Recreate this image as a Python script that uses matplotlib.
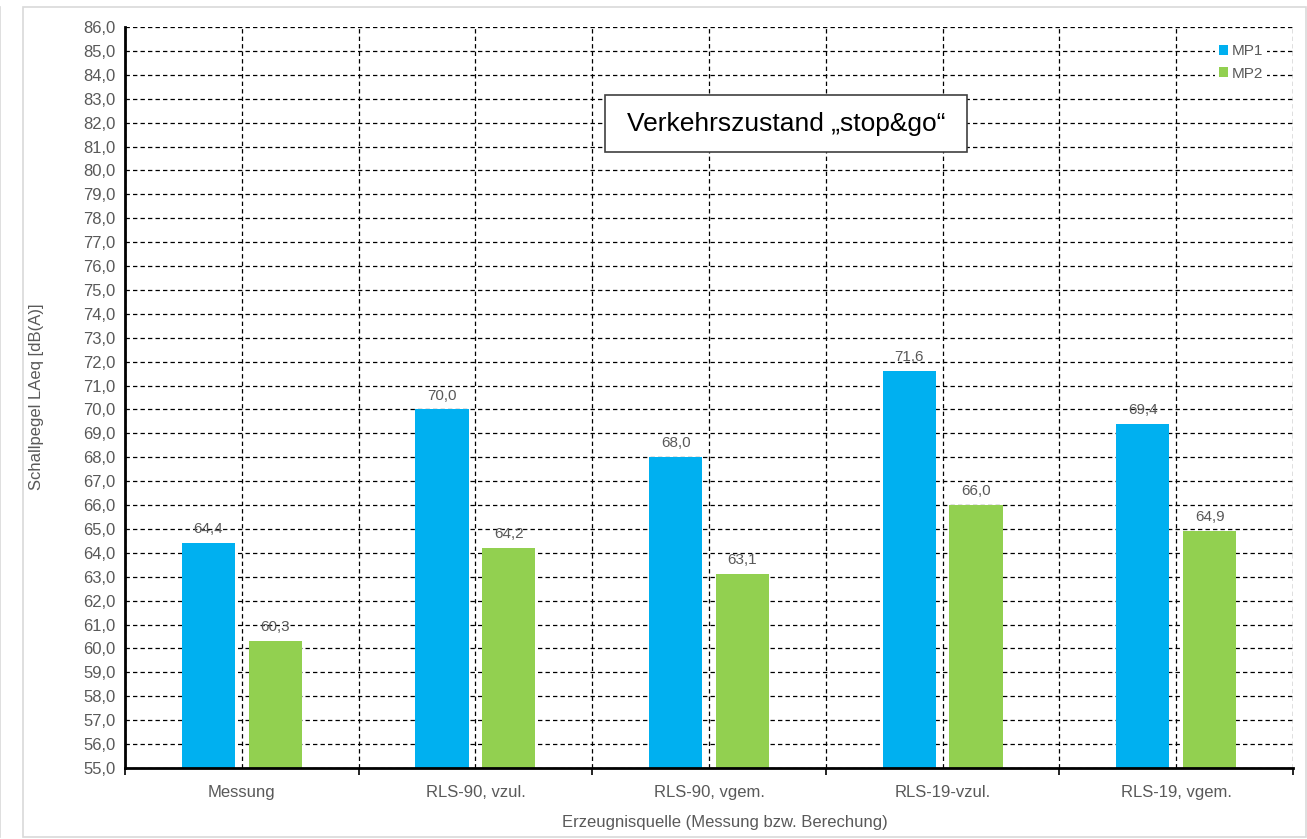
import matplotlib

matplotlib.use("Agg")
import matplotlib.pyplot as plt
from matplotlib.patches import Rectangle
from matplotlib.ticker import FixedLocator, FuncFormatter

plt.rcParams["font.family"] = ["Liberation Sans", "DejaVu Sans"]

# data
categories = ["Messung", "RLS-90, vzul.", "RLS-90, vgem.", "RLS-19-vzul.", "RLS-19, vgem."]
mp1 = [64.4, 70.0, 68.0, 71.6, 69.4]
mp2 = [60.3, 64.2, 63.1, 66.0, 64.9]
series_names = ["MP1", "MP2"]
y_ticks = list(range(55, 87))

BLUE = "#00B0F0"
GREEN = "#92D050"
GREY_TEXT = "#595959"

W, H = 1307, 839
fig = plt.figure(figsize=(W / 100, H / 100), dpi=100)
fig.patch.set_facecolor("white")

# light outer frames like the source document
fig.patches.append(Rectangle((23 / W, 2 / H), 1283 / W, 830 / H, transform=fig.transFigure,
                             fill=False, edgecolor="#d9d9d9", linewidth=1.2))
fig.patches.append(Rectangle((-0.01, 2 / H), 13 / W, 830 / H, transform=fig.transFigure,
                             fill=False, edgecolor="#d9d9d9", linewidth=1.2))

ax = fig.add_axes([125 / W, (H - 768) / H, (1293 - 125) / W, (768 - 27) / H])

x = list(range(len(categories)))
offset = 0.143
width = 0.227
b1 = ax.bar([i - offset for i in x], mp1, width=width, color=BLUE, label=series_names[0], zorder=3)
b2 = ax.bar([i + offset for i in x], mp2, width=width, color=GREEN, label=series_names[1], zorder=3)

fmt = lambda v: f"{v:.1f}".replace(".", ",")
ax.bar_label(b1, labels=[fmt(v) for v in mp1], padding=5, fontsize=11, color=GREY_TEXT, zorder=4)
ax.bar_label(b2, labels=[fmt(v) for v in mp2], padding=5, fontsize=11, color=GREY_TEXT, zorder=4)

ax.set_ylim(55, 86)
ax.set_xlim(-0.5, len(categories) - 0.5)
ax.set_yticks(y_ticks)
ax.yaxis.set_major_formatter(FuncFormatter(lambda v, _: fmt(v)))
ax.tick_params(axis="y", length=0, pad=7, labelsize=12, labelcolor=GREY_TEXT)

ax.set_xticks(x)
ax.set_xticklabels(categories)
ax.xaxis.set_minor_locator(FixedLocator([i - 0.5 for i in range(len(categories) + 1)]))
ax.tick_params(axis="x", which="major", length=0, pad=12, labelsize=12, labelcolor=GREY_TEXT)
ax.tick_params(axis="x", which="minor", length=5, width=1.2, direction="out", color="black")

grid_style = dict(color="black", linestyle=(0, (3.5, 2.5)), linewidth=0.9)
ax.grid(axis="y", which="major", **grid_style)
ax.grid(axis="x", which="both", **grid_style)
ax.set_axisbelow(True)

ax.spines[["top", "right"]].set_visible(False)
ax.spines["left"].set_linewidth(2)
ax.spines["bottom"].set_linewidth(2)
ax.spines["bottom"].set_zorder(5)

# boxed caption inside the plot area
ax0, ay0 = 125, 768
box_l, box_r, box_t, box_b = 605, 967, 95, 152
ax.add_patch(Rectangle(((box_l - ax0) / 1168, (ay0 - box_b) / 741), (box_r - box_l) / 1168,
                       (box_b - box_t) / 741, transform=ax.transAxes, facecolor="white",
                       edgecolor="#404040", linewidth=1.2, zorder=6))
ax.text((786 - ax0) / 1168, (ay0 - 123.5) / 741, "Verkehrszustand \u201estop&go\u201c",
        transform=ax.transAxes, fontsize=19, ha="center", va="center", color="black", zorder=7)

leg = ax.legend(loc="upper right", bbox_to_anchor=(0.978, 0.983), fontsize=11, frameon=True,
                framealpha=1, edgecolor="none", facecolor="white", handlelength=0.6,
                handleheight=0.6, handletextpad=0.2, labelspacing=0.55, borderpad=0.3,
                borderaxespad=0)
for t in leg.get_texts():
    t.set_color(GREY_TEXT)

fig.text(37 / W, 1 - 397 / H, "Schallpegel LAeq [dB(A)]", rotation=90, ha="center", va="center",
         fontsize=12, color=GREY_TEXT)
fig.text(725 / W, 1 - 822 / H, "Erzeugnisquelle (Messung bzw. Berechung)", ha="center", va="center",
         fontsize=12, color=GREY_TEXT)

fig.savefig("out.png", dpi=100, facecolor="white")
